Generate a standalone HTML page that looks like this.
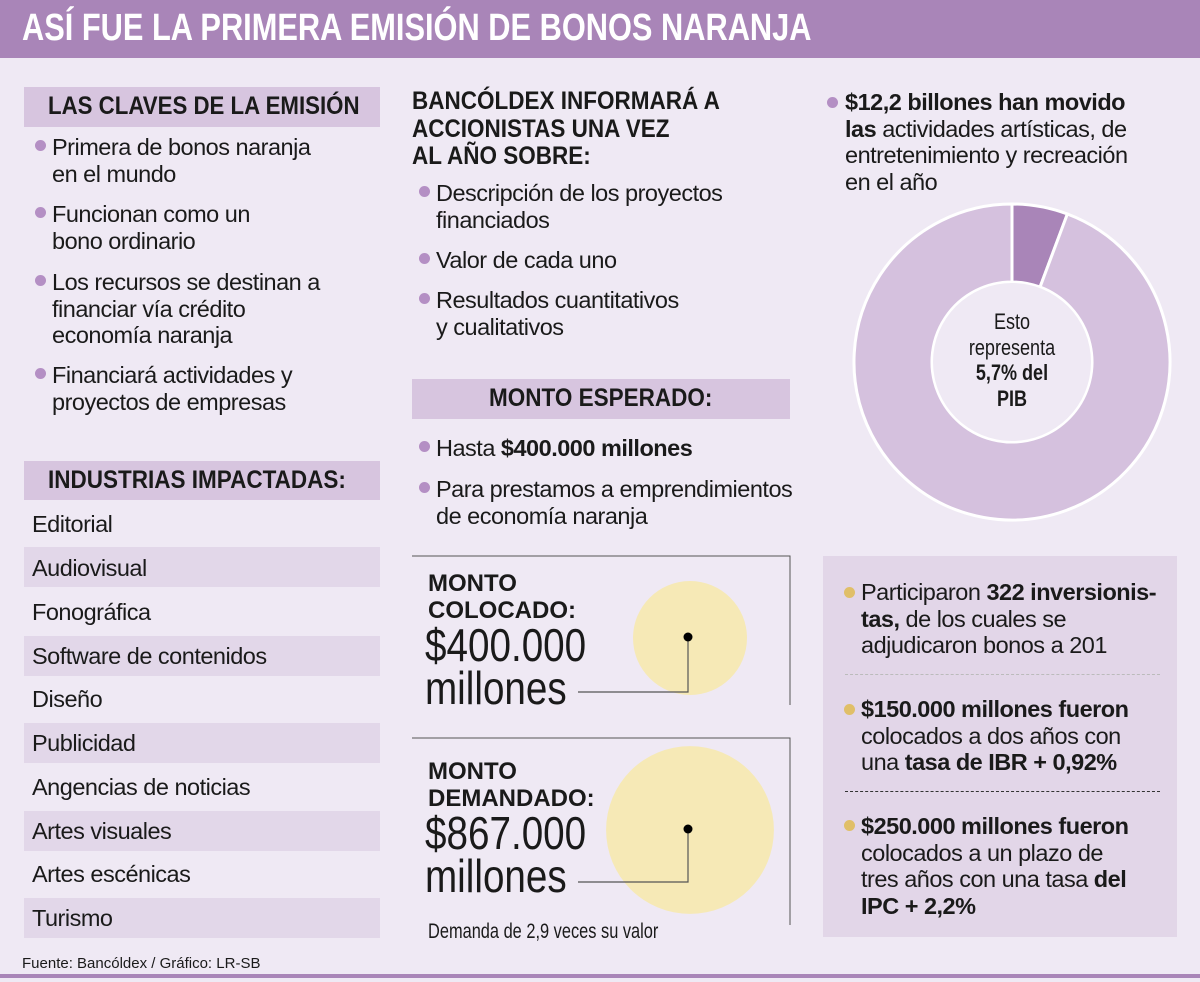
<!DOCTYPE html>
<html><head><meta charset="utf-8">
<style>
*{margin:0;padding:0;box-sizing:border-box}
body{width:1200px;height:982px;background:#efe9f4;position:relative;overflow:hidden;font-family:"Liberation Sans",sans-serif;color:#1a1a1a}
.a{position:absolute;white-space:nowrap}
.t{font-size:23.5px;letter-spacing:-0.5px;line-height:26.5px}
.sx{transform-origin:0 0}
.h{font-weight:bold;font-size:25px}
.box{position:absolute;background:#d7c5df}
.dot{position:absolute;width:11px;height:11px;border-radius:50%;background:#b48fc4}
.ydot{background:#e0bf68}
.row{position:absolute;left:24px;width:356px;height:40px}
.stripe{background:#e2d7e9}
b{font-weight:bold}
</style></head><body>
<div class="a" style="left:0;top:0;width:1200px;height:58px;background:#a985b8"></div>
<div class="a sx" style="left:22px;top:7px;font-size:38px;font-weight:bold;color:#fff;transform:scaleX(0.81)">ASÍ FUE LA PRIMERA EMISIÓN DE BONOS NARANJA</div>

<div class="box" style="left:24px;top:87px;width:356px;height:40px"></div>
<div class="a h sx" style="left:48px;top:92px;transform:scaleX(0.89)">LAS CLAVES DE LA EMISIÓN</div>
<div>
<div class="dot" style="left:35px;top:140px"></div><div class="a t" style="left:52px;top:134px">Primera de bonos naranja<br>en el mundo</div>
<div class="dot" style="left:35px;top:207px"></div><div class="a t" style="left:52px;top:201px">Funcionan como un<br>bono ordinario</div>
<div class="dot" style="left:35px;top:275px"></div><div class="a t" style="left:52px;top:269px">Los recursos se destinan a<br>financiar vía crédito<br>economía naranja</div>
<div class="dot" style="left:35px;top:368px"></div><div class="a t" style="left:52px;top:362px">Financiará actividades y<br>proyectos de empresas</div>
</div>

<div class="box" style="left:24px;top:461px;width:356px;height:39px"></div>
<div class="a h sx" style="left:48px;top:466px;transform:scaleX(0.9)">INDUSTRIAS IMPACTADAS:</div>
<div>
<div class="row" style="top:503px"></div><div class="a t" style="left:32px;top:511px">Editorial</div>
<div class="row stripe" style="top:547px"></div><div class="a t" style="left:32px;top:555px">Audiovisual</div>
<div class="a t" style="left:32px;top:599px">Fonográfica</div>
<div class="row stripe" style="top:636px"></div><div class="a t" style="left:32px;top:643px">Software de contenidos</div>
<div class="a t" style="left:32px;top:686px">Diseño</div>
<div class="row stripe" style="top:723px"></div><div class="a t" style="left:32px;top:730px">Publicidad</div>
<div class="a t" style="left:32px;top:774px">Angencias de noticias</div>
<div class="row stripe" style="top:811px"></div><div class="a t" style="left:32px;top:818px">Artes visuales</div>
<div class="a t" style="left:32px;top:861px">Artes escénicas</div>
<div class="row stripe" style="top:898px"></div><div class="a t" style="left:32px;top:905px">Turismo</div>
</div>

<div class="a h sx" style="left:412px;top:88px;line-height:27.5px;transform:scaleX(0.9)">BANCÓLDEX INFORMARÁ A<br>ACCIONISTAS UNA VEZ<br>AL AÑO SOBRE:</div>
<div>
<div class="dot" style="left:419px;top:186px"></div><div class="a t" style="left:436px;top:180px">Descripción de los proyectos<br>financiados</div>
<div class="dot" style="left:419px;top:253px"></div><div class="a t" style="left:436px;top:247px">Valor de cada uno</div>
<div class="dot" style="left:419px;top:293px"></div><div class="a t" style="left:436px;top:287px">Resultados cuantitativos<br>y cualitativos</div>
</div>
<div class="box" style="left:412px;top:379px;width:378px;height:40px"></div>
<div class="a h sx" style="left:489px;top:384px;transform:scaleX(0.9)">MONTO ESPERADO:</div>
<div>
<div class="dot" style="left:419px;top:441px"></div><div class="a t" style="left:436px;top:435px">Hasta <b>$400.000 millones</b></div>
<div class="dot" style="left:419px;top:482px"></div><div class="a t" style="left:436px;top:476px">Para prestamos a emprendimientos<br>de economía naranja</div>
</div>

<svg class="a" style="left:0;top:0" width="1200" height="982" id="bub"></svg>
<div class="a h" style="left:428px;top:570px;line-height:27px;font-size:24px">MONTO<br>COLOCADO:</div>
<div class="a sx" style="left:425px;top:624px;font-size:46px;line-height:43px;transform:scaleX(0.84)">$400.000<br>millones</div>
<div class="a h" style="left:428px;top:758px;line-height:27px;font-size:24px">MONTO<br>DEMANDADO:</div>
<div class="a sx" style="left:425px;top:812px;font-size:46px;line-height:43px;transform:scaleX(0.84)">$867.000<br>millones</div>
<div class="a sx" style="left:428px;top:920px;font-size:21px;transform:scaleX(0.78)">Demanda de 2,9 veces su valor</div>

<div class="dot" style="left:827px;top:97px"></div>
<div class="a t" style="left:845px;top:89px"><b>$12,2 billones han movido<br>las</b> actividades artísticas, de<br>entretenimiento y recreación<br>en el año</div>
<svg class="a" id="donut" style="left:0;top:0" width="1200" height="982"></svg>
<div class="a" style="left:932px;top:309px;width:160px;text-align:center;font-size:22px;line-height:25.5px;transform:scaleX(0.82);transform-origin:50% 0">Esto<br>representa<br><b>5,7% del<br>PIB</b></div>

<div class="a" style="left:823px;top:556px;width:354px;height:381px;background:#e2d6e8"></div>
<div>
<div class="dot ydot" style="left:844px;top:587px"></div><div class="a t" style="left:861px;top:579px">Participaron <b>322 inversionis-<br>tas,</b> de los cuales se<br>adjudicaron bonos a 201</div>
<div class="a" style="left:845px;top:674px;width:315px;border-top:1px dashed #bbb"></div>
<div class="dot ydot" style="left:844px;top:704px"></div><div class="a t" style="left:861px;top:696px"><b>$150.000 millones fueron</b><br>colocados a dos años con<br>una <b>tasa de IBR + 0,92%</b></div>
<div class="a" style="left:845px;top:791px;width:315px;border-top:1px dashed #333"></div>
<div class="dot ydot" style="left:844px;top:820px"></div><div class="a t" style="left:861px;top:813px"><b>$250.000 millones fueron</b><br>colocados a un plazo de<br>tres años con una tasa <b>del<br>IPC + 2,2%</b></div>
</div>

<div class="a" style="left:22px;top:955px;font-size:15px">Fuente: Bancóldex / Gráfico: LR-SB</div>
<div class="a" style="left:0;top:974px;width:1200px;height:4px;background:#a985b8"></div>

<script>
var donutLabels=["Artes y entretenimiento","Resto del PIB"];
var donutValues=[5.7,94.3];
var bubbleLabels=["Colocado","Demandado"];
var bubbleValues=[400000,867000];

var NS="http://www.w3.org/2000/svg";
(function(){
  var svg=document.getElementById('donut');
  var cx=1012,cy=362,R=158,r=80,tot=donutValues.reduce(function(a,b){return a+b},0);
  var colors=["#a985b8","#d5c1de"];
  var a0=-Math.PI/2;
  donutValues.forEach(function(v,i){
    var a1=a0+v/tot*2*Math.PI,large=(a1-a0)>Math.PI?1:0;
    function p(rad,a){return (cx+rad*Math.cos(a)).toFixed(2)+" "+(cy+rad*Math.sin(a)).toFixed(2)}
    var d="M"+p(R,a0)+" A"+R+" "+R+" 0 "+large+" 1 "+p(R,a1)+" L"+p(r,a1)+" A"+r+" "+r+" 0 "+large+" 0 "+p(r,a0)+"Z";
    var path=document.createElementNS(NS,'path');
    path.setAttribute('d',d);path.setAttribute('fill',colors[i]);
    path.setAttribute('stroke','#fff');path.setAttribute('stroke-width','3');
    
    
    svg.appendChild(path);
    a0=a1;
  });
  var c=document.createElementNS(NS,'circle');
  c.setAttribute('cx',cx);c.setAttribute('cy',cy);c.setAttribute('r',r-1);c.setAttribute('fill','#efe9f4');
  
  
  svg.appendChild(c);
})();
(function(){
  var svg=document.getElementById('bub');
  var tops=[556,738],bots=[705,925],cys=[638,830];
  var k=57/Math.sqrt(400000);
  function el(t,at){var e=document.createElementNS(NS,t);for(var q in at)e.setAttribute(q,at[q]);svg.appendChild(e);return e;}
  bubbleValues.forEach(function(v,i){
    var rr=k*Math.sqrt(v),cx=690,cy=cys[i];
    el('path',{d:"M412 "+tops[i]+" H790 V"+bots[i],fill:'none',stroke:'#555','stroke-width':1});
    var c=el('circle',{cx:cx,cy:cy,r:rr,fill:'#f6e9b6'});
    
    
    var ly=i==0?692:882;
    el('path',{d:"M"+(cx-2)+" "+cy+" V"+ly+" H578",fill:'none',stroke:'#555','stroke-width':1.2});
    el('circle',{cx:cx-2,cy:cy-1,r:4.5,fill:'#000'});
  });
})();
</script>
</body></html>
